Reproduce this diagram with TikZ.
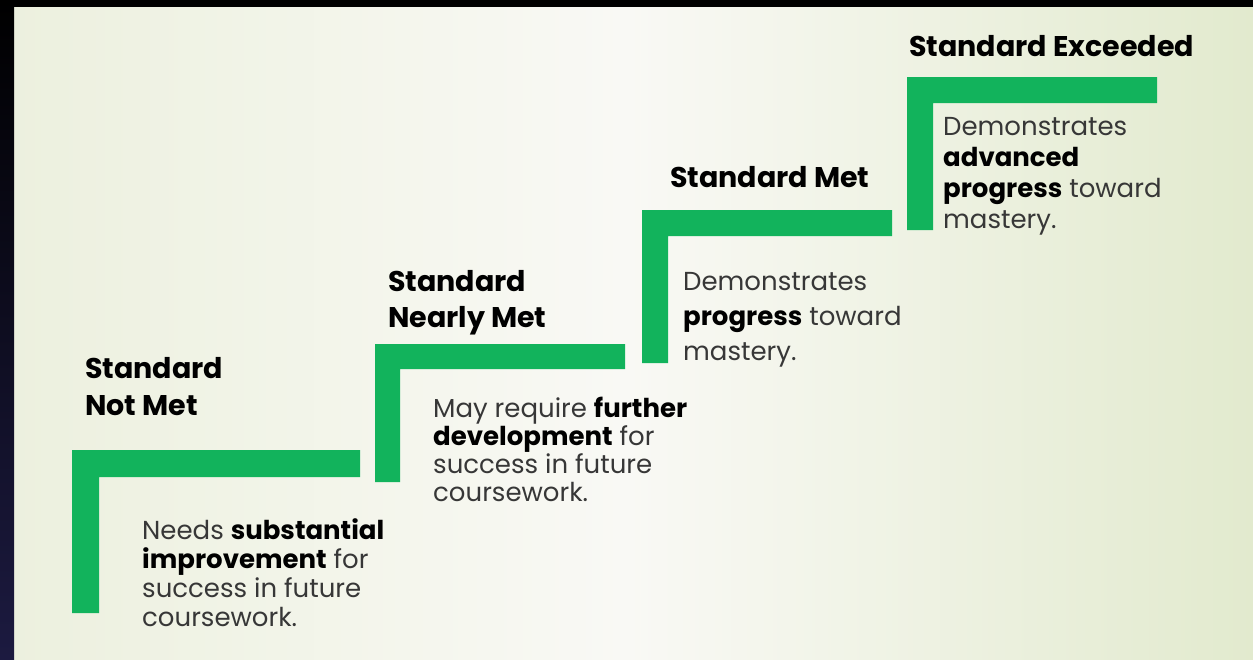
\documentclass[tikz,border=0pt]{standalone}
\usepackage{fontspec}
\setmainfont{Poppins}
\definecolor{stepgreen}{RGB}{18,179,92}
\definecolor{bodytext}{RGB}{55,55,55}
\definecolor{navy}{RGB}{28,26,64}
\definecolor{bgleft}{RGB}{236,240,222}
\definecolor{bgmid}{RGB}{249,249,245}
\definecolor{bgright}{RGB}{226,234,206}
\tikzset{
  bar/.style={fill=stepgreen},
  title/.style={anchor=base west, inner sep=0pt, align=left, text=black, font=\fontsize{28.5}{36}\selectfont\bfseries},
  body/.style={anchor=base west, inner sep=0pt, align=left, text=bodytext}
}
\begin{document}
\begin{tikzpicture}[x=1pt,y=-1pt]
\useasboundingbox (0,0) rectangle (1253,659);
% background
\shade[left color=bgleft, right color=bgright, middle color=bgmid] (0,0) rectangle (1253,659);
\fill[black] (0,0) rectangle (1253,7);
\shade[top color=black, bottom color=navy] (0,0) rectangle (14,659);
% steps
\fill[bar] (72,450) -- (360,450) -- (360,477) -- (99,477) -- (99,613) -- (72,613) -- cycle;
\fill[bar] (375,344) -- (625,344) -- (625,369) -- (400,369) -- (400,482) -- (375,482) -- cycle;
\fill[bar] (642,210) -- (892,210) -- (892,236) -- (668,236) -- (668,363) -- (642,363) -- cycle;
\fill[bar] (907,77) -- (1157,77) -- (1157,103) -- (933,103) -- (933,230) -- (907,230) -- cycle;
% titles (anchor = baseline of last line)
\node[title, font=\fontsize{28.5}{37}\selectfont\bfseries] (t1) at (85,415) {Standard\\Not Met};
\node[title] (t2) at (388,327) {Standard\\Nearly Met};
\node[title] (t3) at (670,187) {Standard Met};
\node[title] (t4) at (909,56) {Standard Exceeded};
% bodies (anchor = baseline of last line)
\node[body, font=\fontsize{26}{29}\selectfont] (b1) at (142,626) {Needs \textbf{\color{black}substantial}\\\textbf{\color{black}improvement} for\\success in future\\coursework.};
\node[body, font=\fontsize{26}{28}\selectfont] (b2) at (433,501) {May require \textbf{\color{black}further}\\\textbf{\color{black}development} for\\success in future\\coursework.};
\node[body, font=\fontsize{26}{35}\selectfont] (b3) at (683,360) {Demonstrates\\\textbf{\color{black}progress} toward\\mastery.};
\node[body, font=\fontsize{26}{31}\selectfont] (b4) at (943,228) {Demonstrates\\\textbf{\color{black}advanced}\\\textbf{\color{black}progress} toward\\mastery.};
\end{tikzpicture}
\end{document}
